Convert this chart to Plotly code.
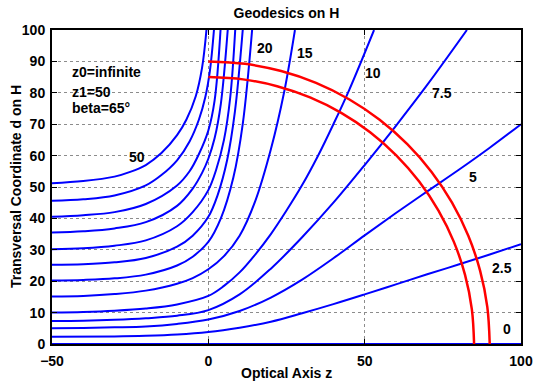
import math
import plotly.graph_objects as go

# ---- data ----
# start heights of the geodesics (curve labels)
heights = [0, 2.5, 5, 7.5, 10, 15, 20, 25, 30, 35, 40, 45, 50]

z_0 = [-50, 100]
d_0 = [0, 0]

z_2_5 = [-50, -30, -20, -10, 0, 10, 20, 30, 40, 50, 60, 70, 80, 90, 100]
d_2_5 = [2.3, 2.4, 2.6, 3.0, 3.8, 5.2, 7.1, 9.8, 12.7, 15.8, 19.0, 22.2, 25.3, 28.5, 31.8]

z_5 = [-50, -40, -30, -20, -10, 0, 10, 20, 30, 40, 50, 60, 70, 80, 90, 100]
d_5 = [5.0, 5.1, 5.3, 5.6, 6.4, 7.8, 10.5, 14.8, 20.5, 27.3, 34.6, 41.7, 48.6, 55.4, 62.5, 70.0]

z_7_5 = [-50, -40, -30, -20, -10, 0, 10, 20, 30, 40, 50, 60, 70, 82.7]
d_7_5 = [7.3, 7.4, 7.7, 8.2, 9.0, 10.8, 15.8, 24.0, 34.0, 45.0, 57.0, 69.5, 82.5, 100]

z_10 = [-50, -40, -30, -20, -10, 0, 5, 10, 15, 20, 25, 30, 35, 40, 45, 53]
d_10 = [10.0, 10.2, 10.6, 11.3, 12.6, 15.3, 18.5, 22.8, 28.5, 35.0, 42.5, 50.6, 59.8, 70.0, 80.8, 100]

z_15 = [-50, -40, -30, -20, -10, -5, 0, 5, 10, 15, 20, 24.2, 27.7]
d_15 = [15.1, 15.3, 15.9, 17.0, 19.2, 21.0, 23.8, 28.0, 34.5, 45.5, 62.0, 80.0, 100]

z_20 = [-50, -40, -30, -20, -10, -5, 0, 4, 8, 11, 14]
d_20 = [20.2, 20.4, 20.9, 22.1, 25.0, 27.8, 32.5, 40.0, 53.0, 70.0, 100]

z_25 = [-50, -40, -30, -20, -10, -5, 0, 3, 6, 8.5, 11]
d_25 = [25.2, 25.4, 26.0, 27.4, 31.0, 34.5, 40.5, 47.5, 58.5, 74.0, 100]

z_30 = [-50, -40, -30, -20, -10, -5, 0, 2.5, 5, 7, 8.6]
d_30 = [30.2, 30.5, 31.3, 33.0, 37.5, 42.0, 49.0, 55.5, 65.0, 78.5, 100]

z_35 = [-50, -40, -30, -20, -10, -5, -2, 0, 2, 4, 6.2]
d_35 = [35.5, 35.9, 36.8, 38.8, 44.0, 49.5, 54.5, 59.0, 65.5, 76.5, 100]

z_40 = [-50, -40, -30, -20, -10, -6, -3, 0, 2, 3.9]
d_40 = [40.5, 41.0, 42.0, 44.6, 50.5, 55.0, 60.5, 68.0, 77.5, 100]

z_45 = [-50, -40, -30, -20, -15, -10, -6, -3, -1, 0.5, 1.8]
d_45 = [45.6, 46.1, 47.3, 50.5, 53.8, 58.5, 64.5, 71.5, 78.5, 87.0, 100]

z_50 = [-50, -40, -30, -25, -20, -15, -10, -7, -4, -2, -0.6]
d_50 = [51.2, 51.9, 53.3, 54.8, 57.0, 60.8, 66.5, 71.5, 79.0, 88.0, 100]

# red arcs (circles centred on the origin)
arc_radii = [85, 90]
arc_angle_deg = [0, 7.5, 15, 22.5, 30, 37.5, 45, 52.5, 60, 67.5, 75, 82.5, 90]

# curve label positions (z, d) and texts
label_text = ["50", "20", "15", "10", "7.5", "5", "2.5", "0"]
label_z = [-22.8, 18.1, 30.9, 52.7, 74.7, 84.6, 93.9, 95.5]
label_d = [59.6, 94.3, 92.7, 86.3, 79.9, 53.2, 24.2, 4.8]

info_text = ["z0=infinite", "z1=50", "beta=65°"]
info_z = [-44.2, -44.2, -44.2]
info_d = [86.5, 80.4, 75.3]

xticks = [-50, 0, 50, 100]
yticks = [0, 10, 20, 30, 40, 50, 60, 70, 80, 90, 100]

# ---- figure ----
fig = go.Figure()

curves = [(z_0, d_0), (z_2_5, d_2_5), (z_5, d_5), (z_7_5, d_7_5), (z_10, d_10),
          (z_15, d_15), (z_20, d_20), (z_25, d_25), (z_30, d_30), (z_35, d_35),
          (z_40, d_40), (z_45, d_45), (z_50, d_50)]
for (zz, dd), h in zip(curves, heights):
    fig.add_trace(go.Scatter(x=zz, y=dd, mode="lines", name=str(h),
                             line=dict(color="#0000ff", width=2, shape="spline", smoothing=1.0),
                             showlegend=False, hoverinfo="skip"))

for r in arc_radii:
    xs = [r * math.cos(math.radians(a)) for a in arc_angle_deg]
    ys = [r * math.sin(math.radians(a)) for a in arc_angle_deg]
    fig.add_trace(go.Scatter(x=xs, y=ys, mode="lines",
                             line=dict(color="#ff0000", width=2.5, shape="spline", smoothing=1.0),
                             showlegend=False, hoverinfo="skip"))

font_bold = dict(family="Liberation Sans, Arial, sans-serif", size=14, color="black", weight="bold")

annotations = []
for t, zz, dd in zip(label_text, label_z, label_d):
    annotations.append(dict(x=zz, y=dd, xref="x", yref="y", text=t, showarrow=False,
                            font=font_bold, xanchor="center", yanchor="middle"))
for t, zz, dd in zip(info_text, info_z, info_d):
    annotations.append(dict(x=zz, y=dd, xref="x", yref="y", text=t, showarrow=False,
                            font=font_bold, xanchor="left", yanchor="middle"))
# axis titles
annotations.append(dict(x=0.5, y=-28.5 / 314, xref="paper", yref="paper", text="Optical Axis z",
                        showarrow=False, font=font_bold, xanchor="center", yanchor="middle"))
annotations.append(dict(x=-36 / 469, y=0.5, xref="paper", yref="paper",
                        text="Transversal Coordinate d on H", textangle=-90,
                        showarrow=False, font=font_bold, xanchor="center", yanchor="middle"))

axis_common = dict(showgrid=True, gridcolor="#8c8c8c", griddash="dot", gridwidth=1,
                   zeroline=False, showline=True, linecolor="black", linewidth=2,
                   mirror="ticks", ticks="inside", ticklen=5, tickcolor="black", tickwidth=1,
                   tickfont=font_bold, layer="above traces", automargin=False)

fig.update_layout(
    width=536, height=383,
    margin=dict(l=52, r=15, t=30, b=39, autoexpand=False),
    paper_bgcolor="white", plot_bgcolor="white",
    title=dict(text="Geodesics on H", font=font_bold, x=0.5, xref="paper",
               y=1 - 13 / 383, yref="container", xanchor="center", yanchor="middle"),
    xaxis=dict(range=[-50, 100], tickvals=xticks, ticklabelstandoff=3, **axis_common),
    yaxis=dict(range=[0, 100], tickvals=yticks, ticklabelstandoff=2, **axis_common),
    annotations=annotations,
)

fig.write_html("out.html")
